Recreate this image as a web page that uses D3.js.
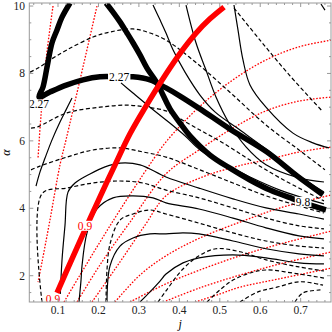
<!DOCTYPE html>
<html lang="en">
<head>
<meta charset="UTF-8">
<title>Contours</title>
<script src="https://d3js.org/d3.v7.min.js"></script>
<style>
body { margin: 0; background: #fff; }
text { font-family: 'Liberation Serif', 'DejaVu Serif', serif; }
</style>
</head>
<body>
<svg id="canvas"></svg>
<script>
// axes
let jDomain = [0.029, 0.775]
let aDomain = [1.22, 10.09]
let jTicks = [0.1, 0.2, 0.3, 0.4, 0.5, 0.6, 0.7]
let aTicks = [2, 4, 6, 8, 10]

// thick red contour (level 0.9)
let redMain = [[0.0975,1.49],[0.1346,2.50],[0.169,3.42],[0.2039,4.34],[0.241,5.29],[0.278,6.21],[0.315,6.98],[0.3674,7.99],[0.4045,8.64],[0.4416,9.20],[0.4757,9.62],[0.5105,9.97]]

// thick black contours
let black227 = [[0.1297,10.09],[0.1099,9.67],[0.0975,9.29],[0.0852,8.91],[0.0729,8.19],[0.0629,7.60],[0.053,7.30],[0.0802,7.45],[0.1222,7.66],[0.1618,7.81],[0.2038,7.90],[0.2508,7.90],[0.2854,7.90],[0.3275,7.81],[0.367,7.57],[0.4016,7.33],[0.451,6.95],[0.5252,6.35],[0.6167,5.67],[0.691,4.96],[0.7551,4.40]]
let black98 = [[0.2187,10.09],[0.236,9.82],[0.2533,9.53],[0.2706,9.20],[0.2854,8.91],[0.3027,8.55],[0.32,8.16],[0.3447,7.72],[0.3596,7.36],[0.3769,6.95],[0.4016,6.53],[0.4263,6.15],[0.4758,5.58],[0.5252,5.19],[0.5747,4.84],[0.6241,4.54],[0.681,4.28],[0.7304,4.07],[0.7626,3.95]]

// thin solid contours
let solidLines = [
  [[0.0456,4.66],[0.0555,5.08],[0.0679,5.49],[0.0852,6.03],[0.1049,6.56],[0.1198,6.92],[0.1346,7.27]],
  [[0.2557,7.72],[0.2854,7.42],[0.3275,7.00],[0.367,6.62],[0.414,6.15],[0.451,5.73],[0.5079,5.34],[0.5747,4.93],[0.6488,4.54],[0.7576,4.13]],
  [[0.1049,1.22],[0.1099,2.47],[0.1173,3.50],[0.1247,4.48],[0.142,4.75],[0.1791,5.02],[0.2162,5.23],[0.2533,5.34],[0.3027,5.29],[0.367,4.93],[0.4486,4.60],[0.5326,4.28],[0.6142,4.01],[0.6958,3.83],[0.7576,3.68]],
  [[0.1519,1.22],[0.1569,1.87],[0.1593,2.29],[0.1717,3.27],[0.1964,3.98],[0.236,4.31],[0.2854,4.37],[0.3349,4.31],[0.367,4.16],[0.4486,3.98],[0.5326,3.71],[0.6142,3.42],[0.6958,3.18],[0.7576,3.09]],
  [[0.2211,1.22],[0.2286,2.29],[0.2533,2.88],[0.2854,3.12],[0.3275,3.24],[0.367,3.24],[0.409,3.27],[0.4486,3.24],[0.5326,3.03],[0.6142,2.80],[0.6958,2.65],[0.7576,2.59]],
  [[0.3027,1.22],[0.3275,1.52],[0.3522,1.84],[0.367,2.05],[0.409,2.38],[0.4486,2.53],[0.5326,2.62],[0.6142,2.53],[0.6958,2.38],[0.7576,2.35]],
  [[0.3349,10.03],[0.3522,9.59],[0.367,9.20],[0.3843,8.70],[0.414,8.04],[0.451,7.36],[0.4881,6.86],[0.5499,6.32],[0.6241,5.67],[0.6908,5.02],[0.7576,4.48]],
  [[0.4165,10.03],[0.4411,8.91],[0.4659,8.10],[0.4906,7.30],[0.5228,6.53],[0.5648,5.82],[0.6142,5.29],[0.6958,4.90],[0.7576,4.78]],
  [[0.5351,10.03],[0.545,9.29],[0.5574,8.40],[0.5747,7.66],[0.6142,7.00],[0.681,6.23],[0.7304,5.94],[0.77,5.79]],
  [[0.7502,10.06],[0.7601,9.88]]
]

// thin dashed contours
let dashedLines = [
  [[0.0604,1.22],[0.0604,4.43],[0.1222,4.60],[0.1866,4.75],[0.2533,4.81],[0.3101,4.75],[0.367,4.54],[0.4486,4.31],[0.5326,4.01],[0.6142,3.71],[0.6958,3.48],[0.7576,3.39]],
  [[0.2187,1.22],[0.2211,2.17],[0.2286,2.94],[0.2533,3.65],[0.2854,3.83],[0.3275,3.95],[0.367,3.83],[0.4486,3.56],[0.5326,3.27],[0.6142,3.03],[0.6958,2.88],[0.7576,2.82]],
  [[0.0308,8.04],[0.0506,8.16],[0.0802,8.40],[0.1222,8.70],[0.1866,9.08],[0.2286,9.23],[0.2854,9.32],[0.3275,9.20],[0.367,8.99],[0.4486,8.25],[0.5326,7.36],[0.6142,6.47],[0.6958,5.73],[0.7601,5.14]],
  [[0.0333,6.38],[0.0481,6.41],[0.1222,6.83],[0.2038,7.00],[0.2706,7.06],[0.3201,7.00],[0.367,6.89],[0.3942,6.71],[0.451,6.32],[0.5079,5.94],[0.5747,5.43],[0.6488,4.90],[0.7576,4.22]],
  [[0.0333,5.14],[0.0506,5.23],[0.1222,5.52],[0.1866,5.73],[0.2533,5.79],[0.3101,5.67],[0.367,5.52],[0.451,5.14],[0.5326,4.75],[0.6142,4.37],[0.6958,4.07],[0.7576,3.86]],
  [[0.5351,9.94],[0.5994,8.99],[0.6736,7.93],[0.7552,6.86]],
  [[0.3472,1.22],[0.367,1.55],[0.409,2.20],[0.4486,2.59],[0.4906,2.80],[0.5499,2.71],[0.6142,2.47],[0.6958,2.26],[0.7576,2.14]],
  [[0.4684,1.22],[0.5005,1.58],[0.5326,1.87],[0.5747,2.08],[0.6142,2.17],[0.6958,2.05],[0.7576,1.93]],
  [[0.5499,1.22],[0.5944,1.52],[0.6414,1.66],[0.6983,1.82],[0.7552,1.72]],
  [[0.6859,1.22],[0.7057,1.49],[0.7552,1.58]]
]

// red dotted contours
let redDotted = [
  [[0.0876,10.0],[0.0703,8.40],[0.058,6.77],[0.0506,5.49]],
  [[0.1964,10.0],[0.1544,7.81],[0.1198,6.03],[0.1049,5.29],[0.0802,3.66],[0.0605,2.41],[0.0506,1.81]],
  [[0.1148,1.22],[0.1544,2.02],[0.2038,3.0],[0.2533,3.95],[0.3249,5.26],[0.367,5.97],[0.4486,7.0],[0.5326,7.81],[0.6142,8.40],[0.6958,8.79],[0.7774,8.99]],
  [[0.147,1.22],[0.2038,2.32],[0.278,3.59],[0.367,5.02],[0.4486,5.73],[0.5326,6.38],[0.6142,6.89],[0.6958,7.18],[0.7774,7.30]],
  [[0.1841,1.22],[0.2533,2.41],[0.3151,3.50],[0.367,4.37],[0.451,4.90],[0.5574,5.29],[0.6142,5.43],[0.6958,5.67],[0.7774,5.82]],
  [[0.2409,1.22],[0.3027,2.02],[0.367,2.59],[0.451,3.12],[0.5499,3.59],[0.6488,4.01],[0.7774,4.40]],
  [[0.278,1.22],[0.367,1.76],[0.451,2.17],[0.5499,2.59],[0.6488,2.94],[0.7774,3.33]],
  [[0.367,1.25],[0.451,1.64],[0.5499,2.02],[0.6488,2.35],[0.7774,2.71]],
  [[0.4387,1.22],[0.5005,1.46],[0.5499,1.66],[0.6439,1.90],[0.7774,2.23]]
]

// contour labels
let labels = [
  {text: '2.27', j: 0.251, a: 7.90, color: '#000'},
  {text: '2.27', j: 0.053, a: 7.08, color: '#000'},
  {text: '9.8', j: 0.7057, a: 4.19, color: '#000'},
  {text: '0.9', j: 0.1667, a: 3.48, color: '#f00'},
  {text: '0.9', j: 0.0877, a: 1.31, color: '#f00'}
]

let width = 332
let height = 332
let padLeft = 29.3, padRight = 331, padTop = 3, padBottom = 302

let svg = d3.select('#canvas').attr('width', width).attr('height', height)

let xScale = d3.scaleLinear().domain(jDomain).range([padLeft, padRight])
let yScale = d3.scaleLinear().domain(aDomain).range([padBottom, padTop])

svg.append('defs').append('clipPath').attr('id', 'plot')
  .append('rect').attr('x', padLeft).attr('y', padTop).attr('width', padRight - padLeft).attr('height', padBottom - padTop)

let line = d3.line().x(d => xScale(d[0])).y(d => yScale(d[1])).curve(d3.curveCatmullRom)

let g = svg.append('g').attr('clip-path', 'url(#plot)')

let drawSet = (set, stroke, w, dash) => {
  g.selectAll(null).data(set).enter().append('path')
    .attr('d', line)
    .attr('fill', 'none')
    .attr('stroke', stroke)
    .attr('stroke-width', w)
    .attr('stroke-dasharray', dash)
}

drawSet(redDotted, '#f00', 1.3, '1.6,1.6')
drawSet(solidLines, '#000', 1.2, null)
drawSet(dashedLines, '#000', 1.2, '4,2.5')
drawSet([black227, black98], '#000', 5.5, null)
drawSet([redMain], '#f00', 5.5, null)

// labels with white boxes
labels.forEach(l => {
  let t = g.append('text')
    .attr('x', xScale(l.j)).attr('y', yScale(l.a))
    .attr('text-anchor', 'middle').attr('dominant-baseline', 'central')
    .attr('font-size', 11.5).attr('fill', l.color)
    .text(l.text)
  let b = t.node().getBBox()
  g.insert('rect', () => t.node())
    .attr('x', b.x - 1).attr('y', b.y + 1).attr('width', b.width + 2).attr('height', b.height - 2)
    .attr('fill', '#fff')
})

// frame and ticks
let frame = svg.append('g').attr('stroke', '#999').attr('stroke-width', 1)
frame.append('rect').attr('x', padLeft).attr('y', padTop).attr('width', padRight - padLeft).attr('height', padBottom - padTop).attr('fill', 'none')

let jMinor = d3.range(0.04, 0.775, 0.02)
let aMinor = d3.range(1.5, 10.09, 0.5)

jMinor.forEach(v => {
  let major = jTicks.some(t => Math.abs(t - v) < 1e-6)
  let len = major ? 4 : 2
  frame.append('line').attr('x1', xScale(v)).attr('x2', xScale(v)).attr('y1', padBottom).attr('y2', padBottom - len)
  frame.append('line').attr('x1', xScale(v)).attr('x2', xScale(v)).attr('y1', padTop).attr('y2', padTop + len)
})
aMinor.forEach(v => {
  let major = aTicks.some(t => Math.abs(t - v) < 1e-6)
  let len = major ? 4 : 2
  frame.append('line').attr('y1', yScale(v)).attr('y2', yScale(v)).attr('x1', padLeft).attr('x2', padLeft + len)
  frame.append('line').attr('y1', yScale(v)).attr('y2', yScale(v)).attr('x1', padRight).attr('x2', padRight - len)
})

svg.selectAll('.xl').data(jTicks).enter().append('text')
  .attr('x', d => xScale(d)).attr('y', 314)
  .attr('text-anchor', 'middle').attr('font-size', 11.5).attr('fill', '#222')
  .text(d => d)

svg.selectAll('.yl').data(aTicks).enter().append('text')
  .attr('x', 25).attr('y', d => yScale(d) + 4)
  .attr('text-anchor', 'end').attr('font-size', 11.5).attr('fill', '#222')
  .text(d => d)

svg.append('text').attr('x', (padLeft + padRight) / 2).attr('y', 328)
  .attr('text-anchor', 'middle').attr('font-size', 12).attr('font-style', 'italic').text('j')
svg.append('text').attr('transform', 'translate(10,' + ((padTop + padBottom) / 2) + ') rotate(-90)')
  .attr('text-anchor', 'middle').attr('font-size', 12).attr('font-style', 'italic').text('α')
</script>
</body>
</html>
